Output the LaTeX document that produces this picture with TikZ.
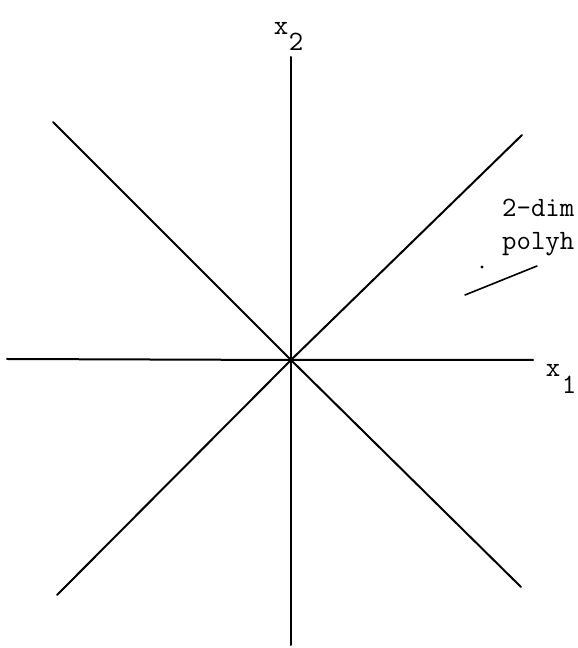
\documentclass[tikz,border=0pt]{standalone}
\usepackage{tikz}

\begin{document}
\begin{tikzpicture}[x=1pt,y=1pt,
  axis/.style={line width=2pt,line cap=round},
  lbl/.style={inner sep=0pt,font=\ttfamily\fontsize{28}{33}\selectfont}]

  \useasboundingbox (0,0) rectangle (578,648);

  % axes and diagonals
  \coordinate (O) at (291,288);
  \coordinate (top) at (291,591);
  \coordinate (bot) at (291,3);
  \coordinate (left) at (7,289);
  \coordinate (right) at (533,288);
  \coordinate (ul) at (53,526);
  \coordinate (ur) at (522,513);
  \coordinate (ll) at (57,53);
  \coordinate (lr) at (521,61);

  \draw[axis] (left) -- (O) -- (right);
  \draw[axis] (bot) -- (O) -- (top);
  \draw[axis] (ul) -- (O) -- (lr);
  \draw[axis] (ll) -- (O) -- (ur);

  % axis labels
  \node[lbl] (xtwo) at (281,620) {x};
  \node[lbl] (xtwosub) at (296,606) {2};
  \node[lbl] (xone) at (553,278) {x};
  \node[lbl] (xonesub) at (569,263) {1};

  % polyhedron label
  \node[lbl,anchor=base west] (dim) at (502,431) {2-dim};
  \node[lbl,anchor=base west] (poly) at (502,398) {polyh};
  \coordinate (dot) at (482,381);
  \fill (dot) circle (1.6);
  \coordinate (ptra) at (465,353);
  \coordinate (ptrb) at (537,382);
  \draw[axis,line width=1.6pt] (ptra) -- (ptrb);
\end{tikzpicture}
\end{document}
